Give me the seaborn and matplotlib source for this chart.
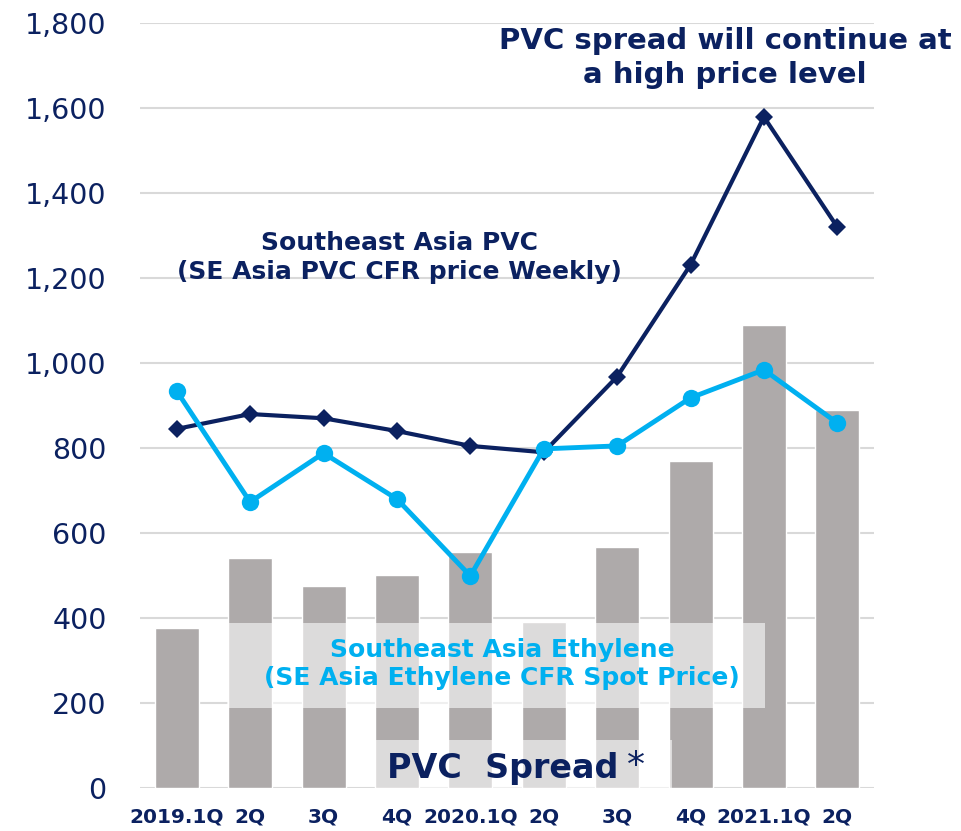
import numpy as np
import pandas as pd
import matplotlib
matplotlib.use("Agg")
import matplotlib.pyplot as plt
from matplotlib.patches import Rectangle
import seaborn as sns

quarters = ["2019.1Q", "2019.2Q", "2019.3Q", "2019.4Q", "2020.1Q",
            "2020.2Q", "2020.3Q", "2020.4Q", "2021.1Q", "2021.2Q"]
tick_labels = ["2019.1Q", "2Q", "3Q", "4Q", "2020.1Q", "2Q", "3Q", "4Q", "2021.1Q", "2Q"]
pvc_spread = [377, 541, 475, 501, 555, 390, 567, 769, 1089, 889]
pvc_price = [845, 880, 870, 840, 805, 790, 968, 1231, 1579, 1320]
ethylene_price = [934, 673, 788, 680, 499, 798, 805, 918, 984, 859]

NAVY = "#0B2160"
LIGHT_BLUE = "#00B0F0"
GRAY = "#AEAAAA"

df = pd.DataFrame({"quarter": quarters, "spread": pvc_spread,
                   "pvc": pvc_price, "ethylene": ethylene_price})
df["idx"] = np.arange(len(df))

sns.set_style("white")
plt.rcParams["font.family"] = ["DejaVu Sans"]

fig = plt.figure(figsize=(9.61, 8.31), dpi=100)
ax = fig.add_axes([0.1457, 0.0517, 0.7638, 0.9206])

# bars = PVC spread
sns.barplot(data=df, x="quarter", y="spread", color=GRAY, saturation=1,
            width=0.6, ax=ax, zorder=2)

# lines
sns.lineplot(data=df, x="idx", y="pvc", color=NAVY, linewidth=3,
             marker="D", markersize=9, markeredgewidth=0, ax=ax, zorder=4)
sns.lineplot(data=df, x="idx", y="ethylene", color=LIGHT_BLUE, linewidth=3.5,
             marker="o", markersize=12.5, markeredgewidth=0, ax=ax, zorder=5)

ax.set_xlim(-0.5, len(quarters) - 0.5)
ax.set_ylim(0, 1800)
ax.set_yticks(range(0, 1801, 200))
ax.set_yticklabels([f"{v:,}" for v in range(0, 1801, 200)])
ax.set_xticks(range(len(quarters)))
ax.set_xticklabels(tick_labels)
ax.tick_params(axis="y", labelsize=20.5, labelcolor=NAVY, length=0, pad=24)
ax.tick_params(axis="x", labelsize=14.5, labelcolor=NAVY, length=0, pad=14)
for lbl in ax.get_xticklabels():
    lbl.set_fontweight("bold")
ax.grid(axis="y", color="#D9D9D9", linewidth=1.5)
ax.set_axisbelow(True)
for s in ax.spines.values():
    s.set_visible(False)
ax.set_xlabel("")
ax.set_ylabel("")

# annotation boxes
ax.add_patch(Rectangle((0.68, 188), 7.34, 200, facecolor="white",
                       alpha=0.58, edgecolor="none", zorder=3))
ax.add_patch(Rectangle((2.71, 0), 4.04, 113, facecolor="white",
                       alpha=0.58, edgecolor="none", zorder=3))

ax.text(7.47, 1718, "PVC spread will continue at\na high price level",
        ha="center", va="center", fontsize=21, fontweight="bold",
        color=NAVY, linespacing=1.25, zorder=6)
ax.text(3.04, 1249, "Southeast Asia PVC\n(SE Asia PVC CFR price Weekly)",
        ha="center", va="center", fontsize=18, fontweight="bold",
        color=NAVY, linespacing=1.25, zorder=6)
ax.text(4.43, 292, "Southeast Asia Ethylene\n(SE Asia Ethylene CFR Spot Price)",
        ha="center", va="center", fontsize=18, fontweight="bold",
        color=LIGHT_BLUE, linespacing=1.2, zorder=6)
ax.text(2.86, 45, "PVC  Spread", ha="left", va="center", fontsize=24,
        fontweight="bold", color=NAVY, zorder=6)
ax.text(6.14, 52, "*", ha="left", va="center", fontsize=26,
        fontweight="normal", color=NAVY, zorder=6)

fig.savefig("out.png", dpi=100)
